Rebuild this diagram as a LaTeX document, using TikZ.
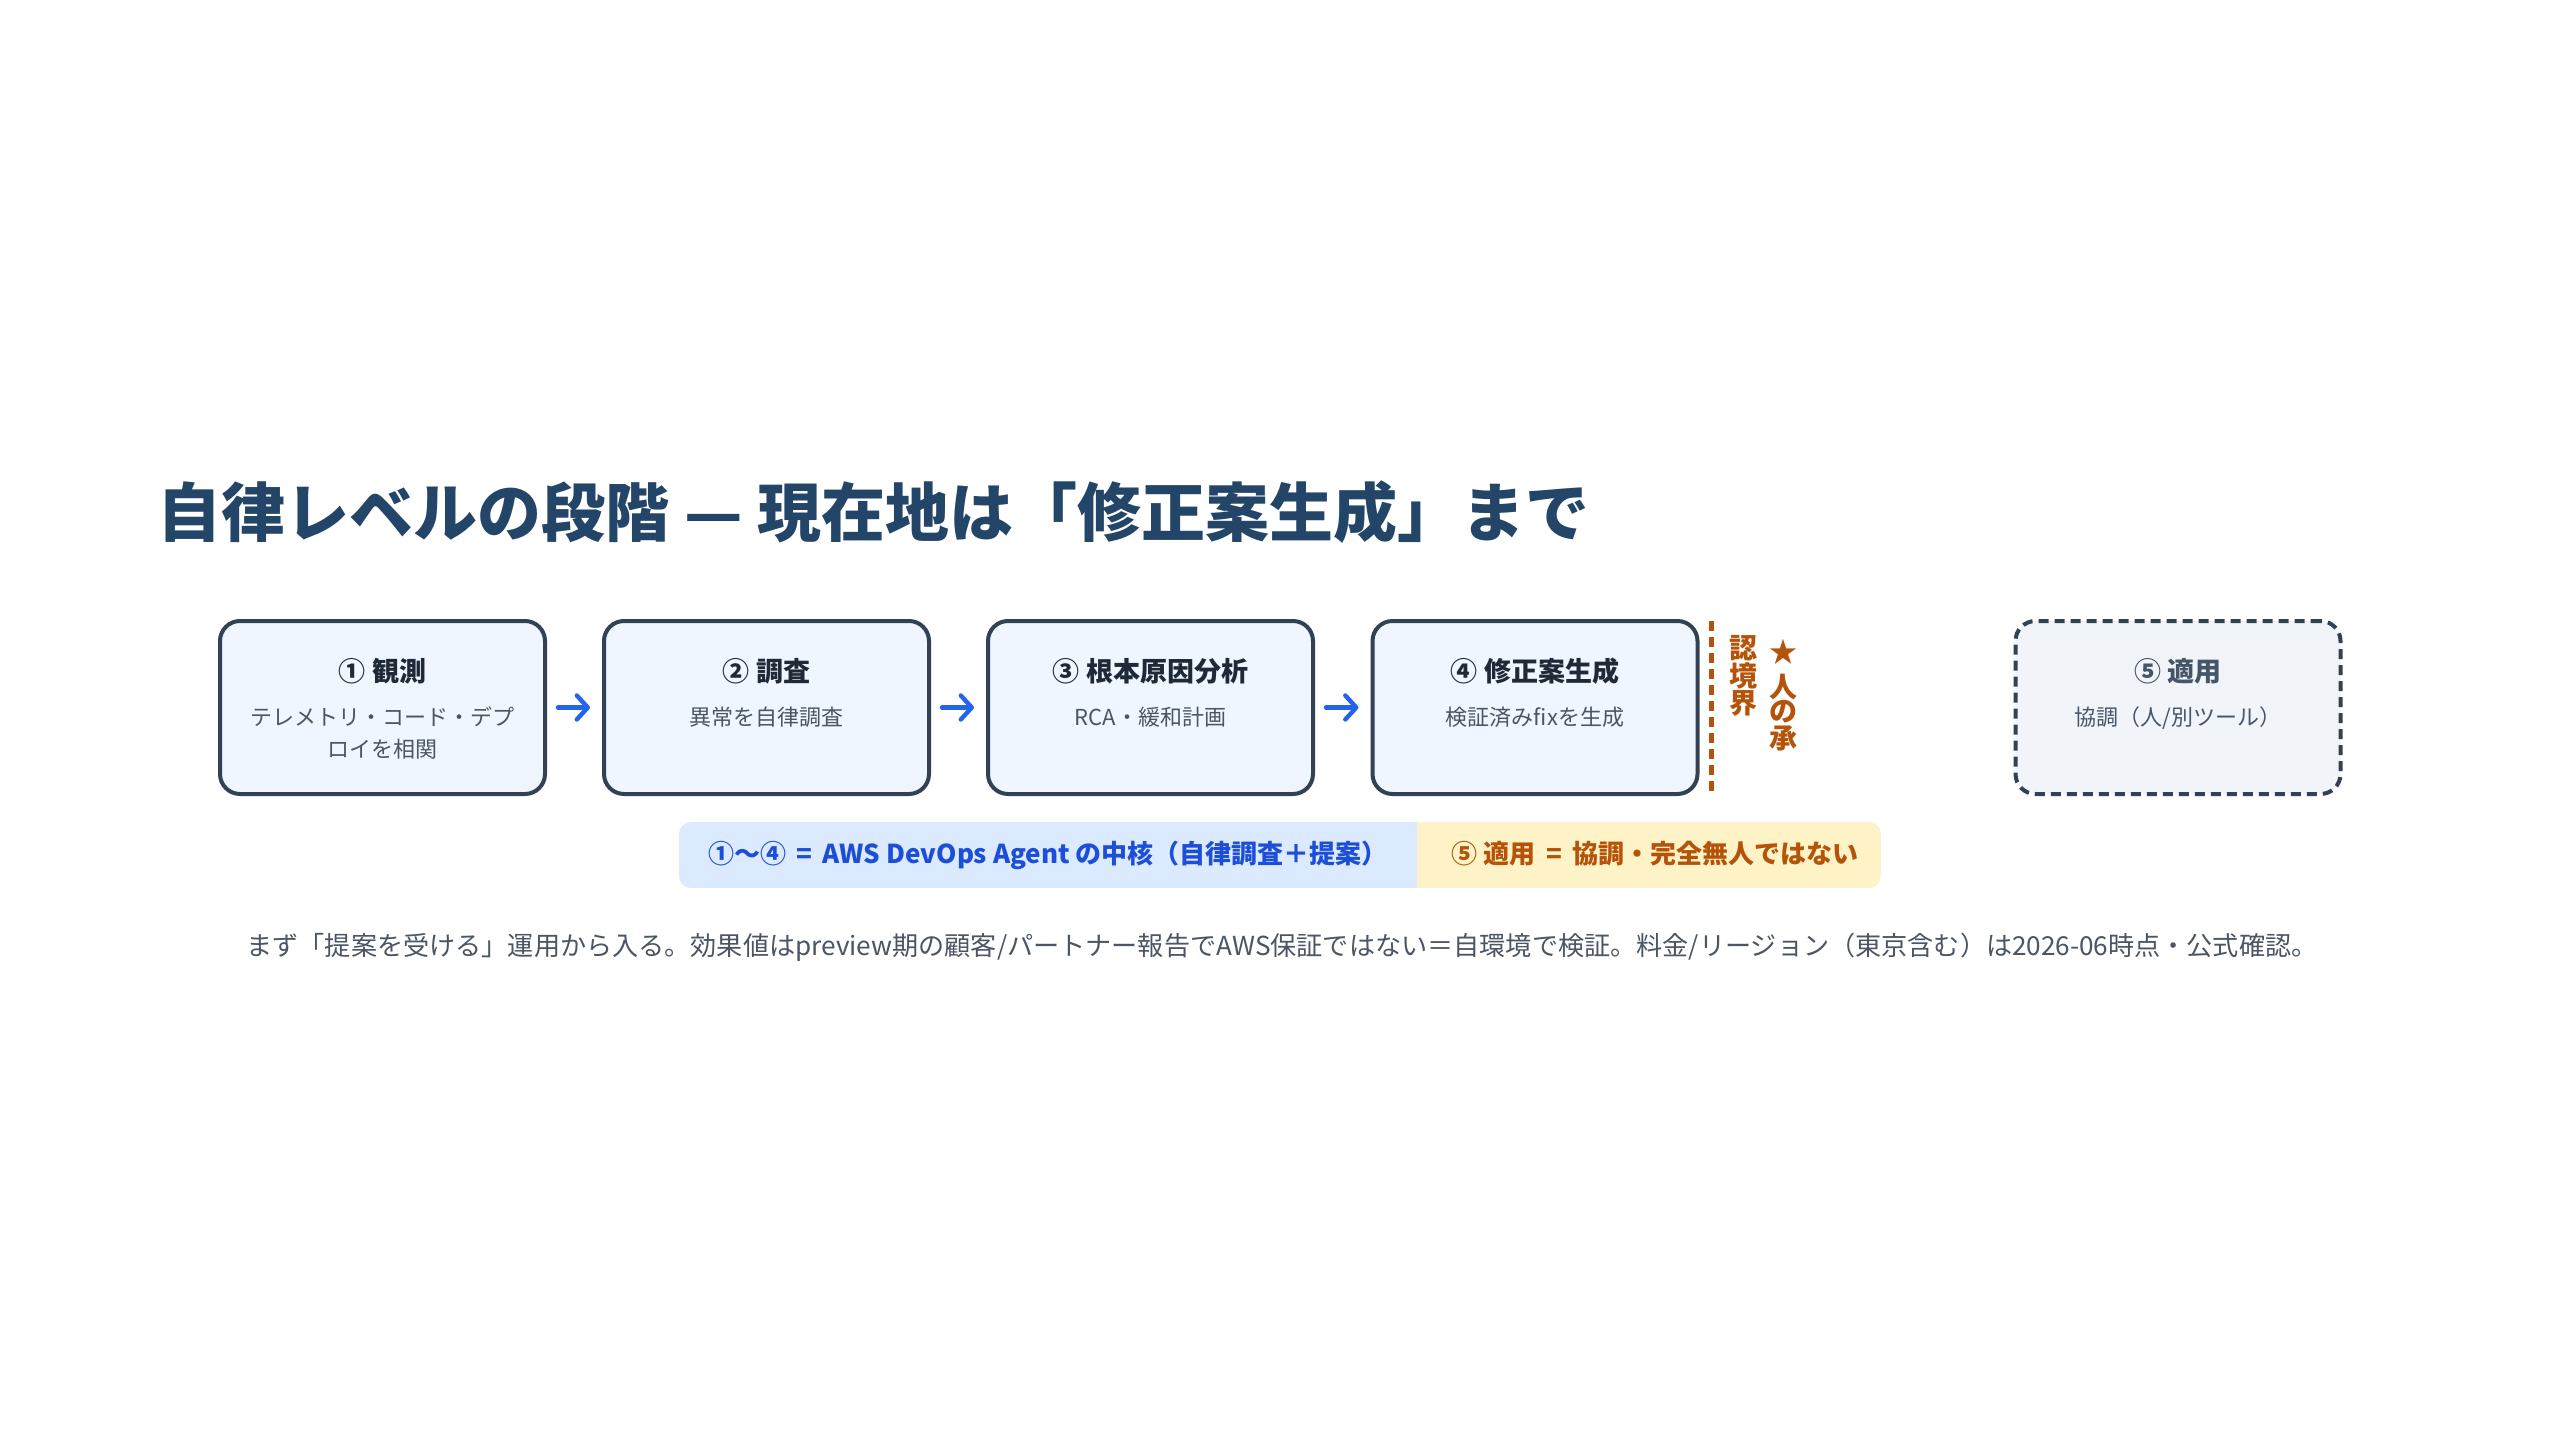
\documentclass[tikz,border=0pt]{standalone}
\usepackage{fontspec}
\setmainfont{Noto Sans CJK JP}
\usetikzlibrary{arrows.meta}
\definecolor{titlec}{RGB}{35,69,104}
\definecolor{boxline}{HTML}{334155}
\definecolor{boxfill}{HTML}{EFF6FF}
\definecolor{boxfivefill}{HTML}{F1F5F9}
\definecolor{darktext}{HTML}{1F2937}
\definecolor{subtext}{HTML}{4B5563}
\definecolor{slatetext}{HTML}{475569}
\definecolor{arrowblue}{HTML}{2563EB}
\definecolor{amber}{HTML}{B45309}
\definecolor{barblue}{HTML}{DBEAFE}
\definecolor{bartextblue}{HTML}{1D4ED8}
\definecolor{baryellow}{HTML}{FEF3C7}
\begin{document}
\begin{tikzpicture}[x=0.5pt,y=-0.5pt,
  stagebox/.style={draw=boxline, line width=2pt, rounded corners=10pt, fill=boxfill,
    minimum width=162.5pt, minimum height=86.5pt, inner sep=0pt, outer sep=0pt},
  futurebox/.style={stagebox, fill=boxfivefill, dash pattern=on 5pt off 3pt},
  boxtitle/.style={anchor=base, inner sep=0pt, text=darktext, font=\fontsize{13.5}{16}\selectfont\bfseries},
  boxsub/.style={anchor=base, inner sep=0pt, text=subtext, font=\fontsize{11}{16}\selectfont},
  flowarrow/.style={draw=arrowblue, line width=2.2pt, line cap=round,
    -{Straight Barb[round,length=5.5pt,width=12pt]}, shorten <=6.5pt, shorten >=7pt},
  vchar/.style={anchor=center, inner sep=0pt, text=amber, font=\fontsize{14}{16}\selectfont\bfseries},
  bartext/.style={anchor=base, inner sep=0pt, font=\fontsize{13}{16}\selectfont\bfseries},
]
\useasboundingbox[fill=white] (0,0) rectangle (2560,1440);

% title
\node[anchor=base west, inner sep=0pt, text=titlec, font=\fontsize{32}{38}\selectfont\bfseries]
  (title) at (157,536) {自律レベルの段階 — 現在地は「修正案生成」まで};

% stage boxes
\node[stagebox] (b1) at (382.5,707.5) {};
\node[stagebox] (b2) at (766.5,707.5) {};
\node[stagebox] (b3) at (1150.5,707.5) {};
\node[stagebox] (b4) at (1535,707.5) {};
\node[futurebox] (b5) at (2178,707.5) {};

\node[boxtitle] (t1) at (382.5,681) {① 観測};
\node[boxsub] (s1a) at (382.5,725) {テレメトリ・コード・デプ};
\node[boxsub] (s1b) at (382.5,757) {ロイを相関};
\node[boxtitle] (t2) at (766.5,681) {② 調査};
\node[boxsub] (s2) at (766.5,725) {異常を自律調査};
\node[boxtitle] (t3) at (1150.5,681) {③ 根本原因分析};
\node[boxsub] (s3) at (1150.5,725) {RCA・緩和計画};
\node[boxtitle] (t4) at (1535,681) {④ 修正案生成};
\node[boxsub] (s4) at (1535,725) {検証済みfixを生成};
\node[boxtitle, text=slatetext] (t5) at (2178,681) {⑤ 適用};
\node[boxsub, text=slatetext] (s5) at (2178,725) {協調（人/別ツール）};

% arrows
\draw[flowarrow] (b1) -- (b2);
\draw[flowarrow] (b2) -- (b3);
\draw[flowarrow] (b3) -- (b4);

% approval boundary
\coordinate (bndtop) at (1711,621);
\coordinate (bndbot) at (1711,794);
\draw[draw=amber, line width=2.5pt, dash pattern=on 5pt off 3pt] (bndtop) -- (bndbot);
\node[vchar] (v1) at (1743,648) {認};
\node[vchar] (v2) at (1743,676) {境};
\node[vchar] (v3) at (1743,703) {界};
\node[vchar] (v4) at (1783,652) {★};
\node[vchar] (v5) at (1783,687) {人};
\node[vchar] (v6) at (1783,712) {の};
\node[vchar] (v7) at (1783,738) {承};

% legend bar
\begin{scope}
  \clip[rounded corners=6pt] (679,822) rectangle (1881,888);
  \fill[barblue] (679,822) rectangle (1417,888);
  \fill[baryellow] (1417,822) rectangle (1881,888);
\end{scope}
\node[bartext, text=bartextblue] (barL) at (1048,863) {①〜④ \,=\, AWS DevOps Agent の中核（自律調査＋提案）};
\node[bartext, text=amber] (barR) at (1655,863) {⑤ 適用 \,=\, 協調・完全無人ではない};

% footnote
\node[anchor=base, inner sep=0pt, text=subtext, font=\fontsize{13.07}{16}\selectfont] (foot) at (1282,955)
  {まず「提案を受ける」運用から入る。効果値はpreview期の顧客/パートナー報告でAWS保証ではない＝自環境で検証。料金/リージョン（東京含む）は2026-06時点・公式確認。};
\end{tikzpicture}
\end{document}
